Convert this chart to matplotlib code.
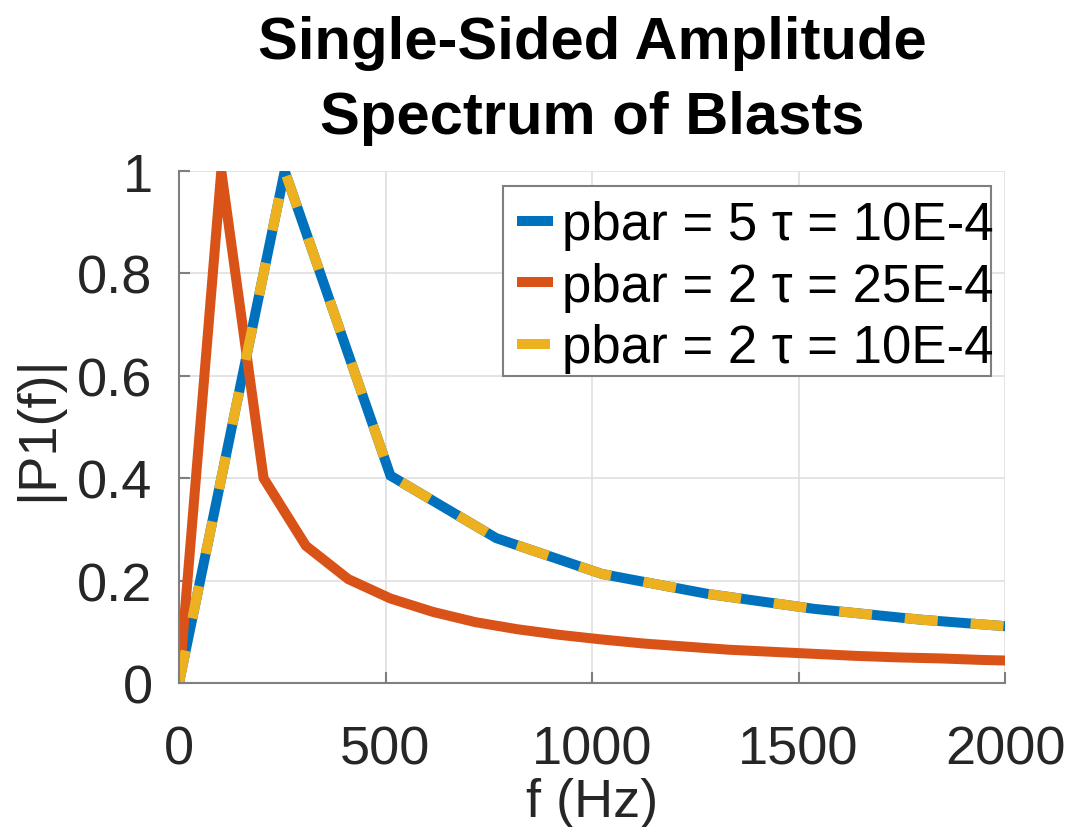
import matplotlib
matplotlib.use("Agg")
import matplotlib.pyplot as plt
from matplotlib.patches import Rectangle

plt.rcParams['font.family'] = ['Liberation Sans', 'DejaVu Sans']

# Data
f_a = [0, 256, 512, 768, 1024, 1280, 1536, 1792, 2048]
p_a = [0.0, 1.0, 0.405, 0.283, 0.213, 0.174, 0.145, 0.124, 0.108]

f_b = [0, 102.4, 204.8, 307.2, 409.6, 512, 614.4, 716.8, 819.2, 921.6, 1024,
       1126.4, 1228.8, 1331.2, 1433.6, 1536, 1638.4, 1740.8, 1843.2, 1945.6, 2048]
p_b = [0.0, 1.0, 0.40, 0.268, 0.203, 0.165, 0.139, 0.119, 0.105, 0.094, 0.085,
       0.077, 0.071, 0.065, 0.061, 0.057, 0.053, 0.050, 0.048, 0.045, 0.043]

f_c = f_a
p_c = p_a

labels = ['pbar = 5 τ = 10E-4', 'pbar = 2 τ = 25E-4', 'pbar = 2 τ = 10E-4']
title = 'Single-Sided Amplitude\nSpectrum of Blasts'
xticks = [0, 500, 1000, 1500, 2000]
yticks = [0, 0.2, 0.4, 0.6, 0.8, 1]
ytick_labels = ['0', '0.2', '0.4', '0.6', '0.8', '1']

c_blue = '#0072BD'
c_orange = '#D95319'
c_yellow = '#EDB120'
axcol = '#262626'

W, H = 1069, 828
fig = plt.figure(figsize=(W/100, H/100), dpi=100)
ax = fig.add_axes([179/W, 1-684/H, (1005-179)/W, (684-172)/H])

lw = 7.2
ax.plot(f_a, p_a, color=c_blue, lw=lw, solid_capstyle='butt', solid_joinstyle='miter', label=labels[0])
ax.plot(f_b, p_b, color=c_orange, lw=lw, solid_capstyle='butt', solid_joinstyle='miter', label=labels[1])
ax.plot(f_c, p_c, color=c_yellow, lw=lw, ls=(0, (3.3, 3.3)), dash_capstyle='butt', label=labels[2])

ax.set_xlim(0, 2000)
ax.set_ylim(0, 1)
ax.set_xticks(xticks)
ax.set_xticklabels([str(t) for t in xticks])
ax.set_yticks(yticks)
ax.set_yticklabels(ytick_labels)

ax.grid(True, color='#dfdfdf', lw=1.2)
ax.set_axisbelow(True)
for s in ['top', 'right']:
    ax.spines[s].set_visible(False)
for s in ['left', 'bottom']:
    ax.spines[s].set_color('#7f7f7f')
    ax.spines[s].set_linewidth(1.5)
ax.tick_params(direction='in', length=8, width=1.5, color='#7f7f7f',
               labelsize=39, labelcolor=axcol)
ax.tick_params(axis='x', pad=30)
ax.tick_params(axis='y', pad=19)

ax.set_xlabel('f (Hz)', fontsize=39, color=axcol, labelpad=2)
ax.set_ylabel('|P1(f)|', fontsize=39, color=axcol, labelpad=10)
ax.set_title(title, fontsize=43, fontweight='bold', color='black', pad=27, linespacing=1.47)

# legend frame (MATLAB-style, text nearly touching right edge)
frame = Rectangle((503/W, 1-377/H), (991-503)/W, (377-187)/H,
                  transform=fig.transFigure, facecolor='white',
                  edgecolor='#7f7f7f', lw=1.5, zorder=4.5, clip_on=False)
ax.add_patch(frame)
leg = ax.legend(loc='upper left', bbox_to_anchor=(503/W, 1-187/H),
                bbox_transform=fig.transFigure, fontsize=38, frameon=False,
                handlelength=0.68, handletextpad=0.17, borderpad=0.27,
                labelspacing=0.22, borderaxespad=0)
leg.set_zorder(6)
for t in leg.get_texts():
    t.set_color('black')

fig.savefig('out.png', dpi=100, facecolor='white')
